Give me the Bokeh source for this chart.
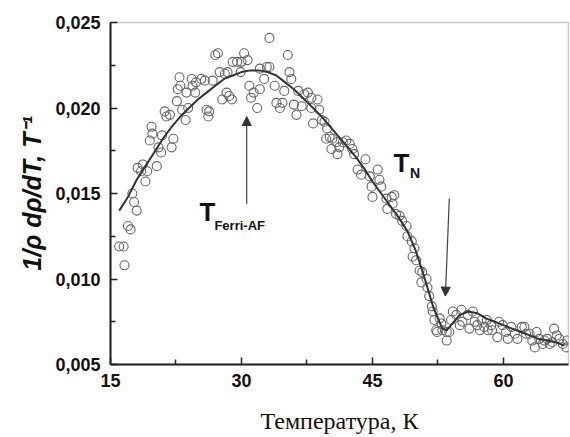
from bokeh.plotting import figure
from bokeh.models import (FixedTicker, CustomJSTickFormatter, Range1d, Arrow,
                          NormalHead, Label, ColumnDataSource)
from bokeh.embed import file_html
from bokeh.resources import INLINE

# ---- data ----
temp_pts = [16.0, 16.5, 16.6, 17.0, 17.3, 17.5, 17.7, 18.0, 18.1, 18.5, 18.7, 19.0, 19.2, 19.5, 19.7,
            19.8, 20.3, 20.5, 20.8, 20.9, 21.2, 21.4, 21.8, 22.0, 22.2, 22.6, 22.7, 22.9, 23.0,
            23.2, 23.6, 23.7, 23.9, 24.3, 24.4, 24.7, 24.8, 25.4, 25.8, 26.0, 26.2, 26.3, 26.7,
            27.0, 27.3, 27.5, 27.8, 28.1, 28.3, 28.4, 28.6, 28.9, 29.0, 29.5, 29.9, 30.0, 30.3, 30.7,
            30.9, 31.1, 31.4, 31.8, 32.1, 32.1, 32.6, 32.9, 33.2, 33.2, 33.8, 34.0, 34.4, 34.7,
            34.9, 35.3, 35.5, 35.7, 36.0, 36.3, 36.5, 36.9, 37.2, 37.6, 38.0, 38.0, 38.2, 38.7,
            38.9, 39.2, 39.5, 39.7, 39.8, 40.1, 40.3, 40.4, 40.9, 41.0, 41.2,
            41.6, 42.0, 42.4, 42.7, 42.9, 43.3, 43.7, 44.2, 44.7, 44.9, 45.0, 45.6, 45.8, 46.0,
            46.6, 46.7, 47.2, 47.3, 47.5, 47.7, 48.1, 48.4, 48.9, 49.0, 49.5, 49.6, 49.8, 50.0,
            50.4, 50.6, 50.7, 51.2, 51.3, 51.5, 51.8,
            51.9, 52.1, 52.3, 52.4, 52.7, 52.9, 53.0, 53.5, 53.5, 53.8, 54.0, 54.2, 54.6, 55.0,
            55.2, 55.3, 55.9, 56.1, 56.5, 56.7, 57.0, 57.3, 57.5, 57.8, 58.1, 58.2, 58.6, 58.7,
            59.3, 59.5, 59.9, 60.3, 60.5, 60.9, 61.3, 61.6, 62.1, 62.4, 62.6, 63.0, 63.3, 63.6,
            63.8, 64.1, 64.5, 64.7, 65.0, 65.3, 65.6, 65.8, 66.1, 66.4, 66.8, 67.2, 67.3]
deriv_pts = [0.0119, 0.0119, 0.0108, 0.0131, 0.0129, 0.0150, 0.0145, 0.0140, 0.0165, 0.0163, 0.0167,
             0.0157, 0.0163, 0.0181, 0.0189, 0.0185, 0.0166, 0.0177, 0.0174, 0.0184, 0.0198, 0.0195,
             0.0196, 0.0177, 0.0182, 0.0204, 0.0211, 0.0218, 0.0213,
             0.0199, 0.0193, 0.0209, 0.0200, 0.0217, 0.0213, 0.0209, 0.0215, 0.0217, 0.0216, 0.0199,
             0.0195, 0.0198, 0.0216, 0.0231, 0.0232, 0.0221, 0.0205, 0.0220, 0.0209, 0.0221, 0.0207,
             0.0205, 0.0227, 0.0227, 0.0221, 0.0227, 0.0232, 0.0228,
             0.0213, 0.0206, 0.0209, 0.0200, 0.0211, 0.0223, 0.0217, 0.0224, 0.0241, 0.0224, 0.0213,
             0.0203, 0.0200, 0.0203, 0.0210, 0.0231, 0.0221, 0.0217, 0.0202, 0.0196, 0.0210, 0.0201,
             0.0208, 0.0209, 0.0206, 0.0200, 0.0191, 0.0205, 0.0199, 0.0193, 0.0192, 0.0182, 0.0188,
             0.0183, 0.0176, 0.0182, 0.0180, 0.0173, 0.0177,
             0.0180, 0.0181, 0.0179, 0.0176, 0.0173, 0.0164, 0.0161, 0.0170, 0.0160, 0.0154, 0.0148,
             0.0164, 0.0158, 0.0154, 0.0147, 0.0141, 0.0148, 0.0144, 0.0149, 0.0138, 0.0137, 0.0134,
             0.0131, 0.0125, 0.0122, 0.0113, 0.0118, 0.0111, 0.0105, 0.0098, 0.0104, 0.0100, 0.0095,
             0.0090, 0.0084,
             0.0081, 0.0076, 0.0070, 0.0069, 0.0077, 0.0074, 0.0070, 0.0069, 0.0064, 0.0069, 0.0076,
             0.0081, 0.0079, 0.0073, 0.0082, 0.0075, 0.0079, 0.0071, 0.0081, 0.0075, 0.0073, 0.0070,
             0.0076, 0.0072, 0.0076, 0.0070, 0.0073, 0.0070, 0.0066, 0.0075, 0.0073, 0.0069, 0.0065,
             0.0072, 0.0068, 0.0065, 0.0072, 0.0072, 0.0068, 0.0068, 0.0064, 0.0060, 0.0069, 0.0065,
             0.0062, 0.0064, 0.0065, 0.0062, 0.0063, 0.0071, 0.0067, 0.0065, 0.0062, 0.0060, 0.0064]

temp_fit = [16, 17, 18, 19, 20, 21, 22, 23, 24, 25, 26, 27, 28, 29, 30, 31, 32, 33, 34, 35, 36, 37,
            38, 39, 40, 41, 42, 43, 44, 45, 46, 47, 48, 49, 50, 51, 52, 53, 53.5, 54, 55, 56, 57,
            58, 59, 60, 61, 62, 63, 64, 65, 66, 67]
deriv_fit = [0.0140, 0.0148, 0.0158, 0.0166, 0.0174, 0.0182, 0.0189, 0.0195, 0.0200, 0.0205, 0.0209,
             0.0213, 0.0217, 0.0219, 0.0221, 0.0222, 0.0222, 0.0221, 0.0219, 0.0215, 0.0211, 0.0206,
             0.0201, 0.0196, 0.0190, 0.0184, 0.0178, 0.0172, 0.0165, 0.0157, 0.0150, 0.0143, 0.0136,
             0.0128, 0.0116, 0.0100, 0.0083, 0.0071, 0.0070, 0.0073, 0.0079, 0.0081, 0.0080, 0.0077,
             0.0075, 0.0073, 0.0071, 0.0069, 0.0067, 0.0065, 0.0064, 0.0063, 0.0061]

x_ticks = [15, 30, 45, 60]
x_minor = [22.5, 37.5, 52.5]
y_ticks = [0.005, 0.010, 0.015, 0.020, 0.025]
y_minor = [0.0075, 0.0125, 0.0175, 0.0225]

# annotation anchors (data units)
ferri_arrow = (30.6, 0.0144, 30.6, 0.0195)
neel_arrow = (53.8, 0.0147, 53.35, 0.0090)
ferri_T = (25.2, 0.0139)
ferri_sub = (26.9, 0.0131)
neel_T = (47.4, 0.0168)
neel_sub = (49.3, 0.0162)

# ---- figure ----
p = figure(width=569, height=436, output_backend="svg", toolbar_location=None,
           x_range=Range1d(15, 67.45), y_range=Range1d(0.005, 0.025),
           min_border_left=110, min_border_top=22, min_border_right=1, min_border_bottom=71)
p.background_fill_color = "white"
p.border_fill_color = "white"
p.outline_line_color = "#c8c8c8"
p.outline_line_width = 1.5
p.xgrid.visible = False
p.ygrid.visible = False

src_pts = ColumnDataSource(dict(t=temp_pts, d=deriv_pts))
src_fit = ColumnDataSource(dict(t=temp_fit, d=deriv_fit))
p.scatter("t", "d", source=src_pts, marker="circle", size=9, fill_color="white", fill_alpha=0.0,
          line_color="#666666", line_width=1.1)
p.line("t", "d", source=src_fit, line_color="#333333", line_width=2)

tick_font = "Liberation Sans"
for ax in (p.xaxis[0], p.yaxis[0]):
    ax.axis_line_color = "#222222"
    ax.axis_line_width = 2
    ax.major_tick_in = 7
    ax.major_tick_out = 0
    ax.minor_tick_in = 5
    ax.minor_tick_out = 0
    ax.major_tick_line_color = "#222222"
    ax.minor_tick_line_color = "#222222"
    ax.major_tick_line_width = 1.5
    ax.minor_tick_line_width = 1.5
    ax.major_label_text_font = tick_font
    ax.major_label_text_font_style = "bold"
    ax.major_label_text_font_size = "18px"
    ax.major_label_text_color = "#111111"

p.xaxis[0].ticker = FixedTicker(ticks=x_ticks, minor_ticks=x_minor)
p.yaxis[0].ticker = FixedTicker(ticks=y_ticks, minor_ticks=y_minor)
p.yaxis[0].formatter = CustomJSTickFormatter(code="return tick.toFixed(3).replace('.', ',');")
p.xaxis[0].major_label_standoff = 9
p.yaxis[0].major_label_standoff = 10

p.xaxis[0].axis_label = "Температура, К"
p.xaxis[0].axis_label_text_font = "Liberation Serif"
p.xaxis[0].axis_label_text_font_style = "normal"
p.xaxis[0].axis_label_text_font_size = "24px"
p.xaxis[0].axis_label_text_color = "#111111"
p.xaxis[0].axis_label_standoff = 18

p.yaxis[0].axis_label = "1/ρ dρ/dT, T⁻¹"
p.yaxis[0].axis_label_text_font = "Liberation Sans"
p.yaxis[0].axis_label_text_font_style = "bold italic"
p.yaxis[0].axis_label_text_font_size = "25px"
p.yaxis[0].axis_label_text_color = "#111111"
p.yaxis[0].axis_label_standoff = 6

for (xs, ys, xe, ye) in (ferri_arrow, neel_arrow):
    p.add_layout(Arrow(x_start=xs, y_start=ys, x_end=xe, y_end=ye,
                       line_color="#444444", line_width=1.2,
                       end=NormalHead(size=9, fill_color="#333333", line_color="#333333")))

def lab(pos, text, size):
    return Label(x=pos[0], y=pos[1], text=text, text_font="Liberation Sans",
                 text_font_style="bold", text_font_size=size, text_color="#111111",
                 text_baseline="alphabetic")

p.add_layout(lab(ferri_T, "T", "26px"))
p.add_layout(lab(ferri_sub, "Ferri-AF", "13px"))
p.add_layout(lab(neel_T, "T", "26px"))
p.add_layout(lab(neel_sub, "N", "14px"))

open("out.html", "w").write(file_html(p, INLINE))
